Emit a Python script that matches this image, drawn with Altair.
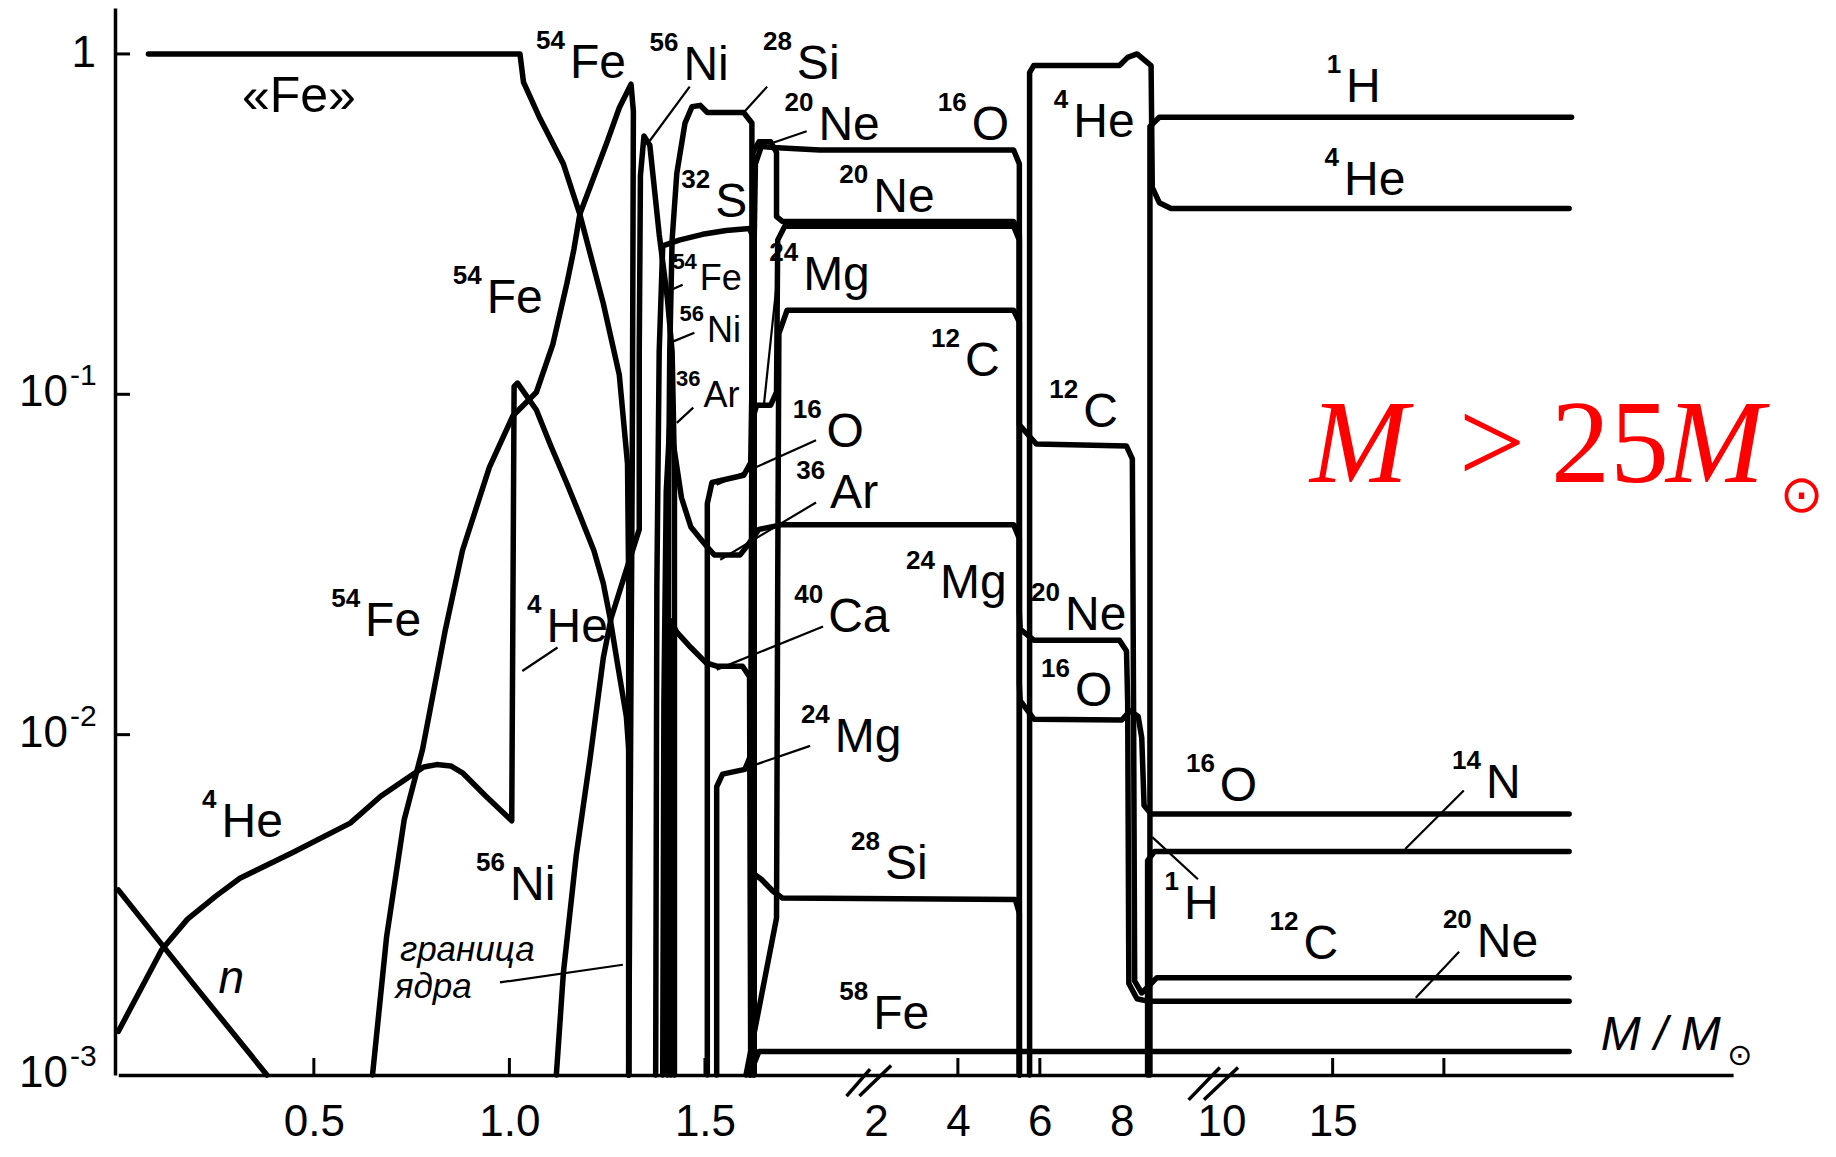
import altair as alt
import pandas as pd

# ---------------- data: mass coordinate (M/Msun) and log10 of mass fraction ----------------
N_M = [0.0, 0.19, 0.38]
N_L = [-2.456, -2.73, -3.0]

HE4_CORE_M = [0.0, 0.057, 0.111, 0.177, 0.251, 0.311, 0.446, 0.593, 0.671, 0.746, 0.781, 0.814, 0.850, 0.880,
              0.940, 1.006, 1.012, 1.021, 1.069, 1.105, 1.147, 1.180, 1.216, 1.240, 1.257, 1.278, 1.299, 1.305, 1.305]
HE4_CORE_L = [-2.872, -2.749, -2.632, -2.542, -2.473, -2.422, -2.346, -2.260, -2.181, -2.122, -2.095, -2.088, -2.092,
              -2.112, -2.181, -2.253, -0.977, -0.967, -1.046, -1.149, -1.262, -1.355, -1.459, -1.555, -1.655, -1.803,
              -1.947, -2.043, -3.0]

FE_CORE_M = [0.077, 1.027, 1.036, 1.078, 1.138, 1.180, 1.240, 1.281, 1.302, 1.305, 1.305]
FE_CORE_L = [0.0, 0.0, -0.083, -0.189, -0.323, -0.471, -0.733, -0.943, -1.204, -1.562, -3.0]

FE54_M = [0.650, 0.686, 0.731, 0.778, 0.835, 0.880, 0.949, 1.009, 1.069, 1.111, 1.147, 1.165, 1.180,
          1.249, 1.281, 1.311, 1.317, 1.314, 1.305]
FE54_L = [-3.0, -2.594, -2.250, -2.043, -1.699, -1.459, -1.214, -1.063, -0.994, -0.853, -0.674, -0.574, -0.471,
          -0.261, -0.158, -0.089, -0.169, -1.218, -3.0]

NI56_M = [1.120, 1.138, 1.171, 1.207, 1.240, 1.260, 1.296, 1.332, 1.332, 1.335, 1.344, 1.359, 1.383,
          1.404, 1.416, 1.422, 1.422]
NI56_L = [-3.0, -2.700, -2.353, -2.064, -1.775, -1.658, -1.527, -1.397, -0.874, -0.358, -0.241, -0.268, -0.530,
          -0.719, -0.874, -1.218, -3.0]

SI28_M = [1.404, 1.407, 1.410, 1.416, 1.428, 1.449, 1.467, 1.488, 1.506, 1.599, 1.620, 1.620, 1.644,
          1.674, 1.698, 5.40, 5.50, 5.50]
SI28_L = [-3.0, -1.287, -0.874, -0.547, -0.351, -0.203, -0.155, -0.151, -0.172, -0.172, -0.203, -2.405, -2.425,
          -2.460, -2.480, -2.484, -2.525, -3.0]

S32_M = [1.374, 1.377, 1.383, 1.392, 1.434, 1.494, 1.554, 1.614, 1.626, 1.626]
S32_L = [-3.0, -1.562, -0.874, -0.564, -0.547, -0.530, -0.519, -0.513, -0.547, -3.0]

AR36_M = [1.392, 1.395, 1.401, 1.410, 1.422, 1.440, 1.464, 1.503, 1.524, 1.590, 1.608, 1.638, 1.698,
          5.36, 5.50, 5.50]
AR36_L = [-3.0, -1.906, -1.287, -1.087, -1.166, -1.304, -1.390, -1.445, -1.472, -1.472, -1.445, -1.397, -1.383,
          -1.383, -1.424, -3.0]

CA40_M = [1.413, 1.413, 1.428, 1.464, 1.503, 1.530, 1.596, 1.614, 1.617]
CA40_L = [-3.0, -1.665, -1.699, -1.744, -1.789, -1.799, -1.799, -1.830, -3.0]

O16_M = [1.506, 1.506, 1.518, 1.599, 1.617, 1.629, 1.644, 1.674, 1.793, 5.36, 5.50, 5.50, 5.52,
         5.86, 8.0, 8.2, 8.4, 8.486, 8.543, 8.714, 25.63]
O16_L = [-3.0, -1.321, -1.259, -1.238, -1.201, -0.323, -0.272, -0.275, -0.282, -0.282, -0.323, -1.850, -1.900,
         -1.955, -1.957, -1.930, -1.947, -2.009, -2.208, -2.233, -2.233]

NE20_M = [1.623, 1.623, 1.638, 1.668, 1.683, 1.683, 1.698, 5.36, 5.50, 5.50, 5.52, 5.86, 7.943,
          8.114, 8.143, 8.171, 8.371, 8.629, 25.63]
NE20_L = [-3.0, -0.289, -0.258, -0.258, -0.289, -0.478, -0.492, -0.492, -0.530, -1.640, -1.690, -1.723, -1.723,
          -1.754, -1.906, -2.731, -2.776, -2.783, -2.783]

MG24_M = [1.530, 1.530, 1.545, 1.602, 1.617, 1.620, 1.632, 1.668, 1.683, 1.686, 1.704, 5.36, 5.50, 5.50]
MG24_L = [-3.0, -2.153, -2.116, -2.102, -2.061, -1.080, -1.032, -1.032, -0.994, -0.547, -0.506, -0.506, -0.547, -3.0]

C12_M = [1.605, 1.683, 1.686, 1.689, 1.710, 5.36, 5.50, 5.50, 5.914, 8.114, 8.257, 8.286, 8.314,
         8.486, 8.857, 25.63]
C12_L = [-3.0, -2.539, -1.562, -0.822, -0.753, -0.753, -0.788, -1.090, -1.146, -1.152, -1.190, -1.906, -2.724,
         -2.759, -2.714, -2.714]

FE58_M = [1.614, 1.638, 25.63]
FE58_L = [-3.0, -2.931, -2.931]

HE4_M = [5.75, 5.75, 5.85, 7.943, 8.143, 8.371, 8.714, 8.743, 8.914, 9.2, 25.63]
HE4_L = [-3.0, -0.055, -0.034, -0.034, -0.010, 0.0, -0.034, -0.392, -0.437, -0.454, -0.454]

H1_M = [8.686, 8.686, 8.914, 25.74]
H1_L = [-3.0, -0.213, -0.186, -0.186]

N14_M = [8.629, 8.629, 8.8, 25.63]
N14_L = [-3.0, -2.370, -2.343, -2.343]

CURVES = [
    ("n", N_M, N_L), ("4He core", HE4_CORE_M, HE4_CORE_L), ("Fe core", FE_CORE_M, FE_CORE_L),
    ("54Fe", FE54_M, FE54_L), ("56Ni", NI56_M, NI56_L), ("28Si", SI28_M, SI28_L), ("32S", S32_M, S32_L),
    ("36Ar", AR36_M, AR36_L), ("40Ca", CA40_M, CA40_L), ("16O", O16_M, O16_L), ("20Ne", NE20_M, NE20_L),
    ("24Mg", MG24_M, MG24_L), ("12C", C12_M, C12_L), ("58Fe", FE58_M, FE58_L), ("4He", HE4_M, HE4_L),
    ("1H", H1_M, H1_L), ("14N", N14_M, N14_L),
]

# isotope labels (left end of element symbol, baseline)
BIG_M = [1.155, 1.445, 1.735, 1.790, 4.337, 6.817, 15.605, 15.51, 1.982, 1.526, 1.751, 0.942, 4.174, 7.06,
         1.811, 1.820, 3.563, 6.614, 0.631, 1.095, 1.815, 6.857, 1.832, 9.982, 21.89, 0.264, 2.222, 1.0015,
         9.515, 13.685, 21.48, 1.982]
BIG_L = [-0.072, -0.078, -0.075, -0.253, -0.253, -0.243, -0.141, -0.413, -0.463, -0.478, -0.694, -0.760, -0.945,
         -1.097, -1.155, -1.334, -1.599, -1.693, -1.711, -1.728, -1.699, -1.917, -2.051, -2.196, -2.185, -2.301,
         -2.425, -2.486, -2.542, -2.659, -2.654, -2.866]
BIG_SUP = ["54", "56", "28", "20", "16", "4", "1", "4", "20", "32", "24", "54", "12", "12",
           "16", "36", "24", "20", "54", "4", "40", "16", "24", "16", "14", "4", "28", "56",
           "1", "12", "20", "58"]
BIG_EL = ["Fe", "Ni", "Si", "Ne", "O", "He", "H", "He", "Ne", "S", "Mg", "Fe", "C", "C",
          "O", "Ar", "Mg", "Ne", "Fe", "He", "Ca", "O", "Mg", "O", "N", "He", "Si", "Ni",
          "H", "C", "Ne", "Fe"]

SMALL_M = [1.487, 1.505, 1.496]
SMALL_L = [-0.694, -0.846, -1.036]
SMALL_SUP = ["54", "56", "36"]
SMALL_EL = ["Fe", "Ni", "Ar"]

# leader lines from labels to curves
LEAD_M1 = [1.461, 1.659, 1.760, 1.686, 1.784, 1.784, 1.802, 1.769, 1.123, 0.976, 1.443, 1.473, 1.470, 20.895, 20.684, 9.724]
LEAD_L1 = [-0.096, -0.096, -0.227, -0.647, -1.135, -1.318, -1.682, -2.033, -1.744, -2.728, -0.678, -0.819, -1.039, -2.164, -2.638, -2.425]
LEAD_M2 = [1.359, 1.599, 1.674, 1.650, 1.530, 1.539, 1.530, 1.569, 1.033, 1.290, 1.404, 1.416, 1.428, 18.263, 18.737, 8.743]
LEAD_L2 = [-0.255, -0.172, -0.261, -1.039, -1.266, -1.486, -1.809, -2.112, -1.813, -2.676, -0.698, -0.846, -1.084, -2.336, -2.773, -2.301]

# axis ticks, tick labels, axis breaks
XTICK_M = [0.5, 1.0, 1.5, 4, 6, 15, 20]
XLAB_VALUES = [0.5, 1.0, 1.5, 2, 4, 6, 8, 10, 15]
YTICK_L = [0, -1, -2]
YLAB10_L = [-1, -2, -3]
YSUP_T = ["-1", "-2", "-3"]
BREAK_M1 = [1.862, 1.895, 9.614, 9.795]
BREAK_L1 = [-3.062, -3.062, -3.073, -3.073]
BREAK_M2 = [1.960, 2.371, 9.982, 10.746]
BREAK_L2 = [-2.983, -2.972, -2.978, -2.978]

# ---------------- build tables ----------------
rows = []
for name, ms, ls in CURVES:
    for i, (m, l) in enumerate(zip(ms, ls)):
        rows.append({"curve": name, "i": i, "m": m, "L": l})
curves_df = pd.DataFrame(rows)

big_df = pd.DataFrame({"m": BIG_M, "L": BIG_L, "sup": BIG_SUP, "el": BIG_EL})
small_df = pd.DataFrame({"m": SMALL_M, "L": SMALL_L, "sup": SMALL_SUP, "el": SMALL_EL})
lead_df = pd.DataFrame({"m1": LEAD_M1, "L1": LEAD_L1, "m2": LEAD_M2, "L2": LEAD_L2})
xtick_df = pd.DataFrame({"m": XTICK_M, "L1": [-3.0] * len(XTICK_M), "L2": [-2.95] * len(XTICK_M)})
ytick_df = pd.DataFrame({"L": YTICK_L, "m1": [-0.0084] * 3, "m2": [0.030] * 3})
ylab_df = pd.DataFrame({"L": YLAB10_L, "t": ["10"] * 3, "s": YSUP_T})
break_df = pd.DataFrame({"m1": BREAK_M1, "L1": BREAK_L1, "m2": BREAK_M2, "L2": BREAK_L2})

FONT = "Liberation Sans"

xs = alt.Scale(type="linear", domain=[0, 1.9, 2, 9.6, 10, 33],
               range=[3.3, 746.4, 760.9, 1072.4, 1106.4, 1618.1], nice=False, zero=False)
ys = alt.Scale(type="linear", domain=[-3, 0.135], nice=False, zero=False)

xaxis = alt.Axis(values=XLAB_VALUES,
                 labelExpr="datum.value < 1.9 ? format(datum.value, '.1f') : format(datum.value, 'd')",
                 labelFont=FONT, labelFontSize=44, labelColor="black", labelPadding=60,
                 labelBaseline="alphabetic",
                 labelOverlap=False, labelFlush=False, labelBound=False,
                 ticks=False, grid=False, domain=True, domainColor="black", domainWidth=3.5, title=None)
yaxis = alt.Axis(labels=False, ticks=False, grid=False, domain=True, domainColor="black",
                 domainWidth=3.5, title=None)


def X(f):
    return alt.X(f"{f}:Q", scale=xs, axis=xaxis)


def Y(f):
    return alt.Y(f"{f}:Q", scale=ys, axis=yaxis)


curves = alt.Chart(curves_df).mark_line(color="black", strokeWidth=5.5, strokeJoin="round",
                                        strokeCap="round").encode(
    x=X("m"), y=Y("L"), detail="curve:N", order=alt.Order("i:Q"))

leaders = alt.Chart(lead_df).mark_rule(color="black", strokeWidth=2.2).encode(
    x=X("m1"), y=Y("L1"), x2="m2:Q", y2="L2:Q")

xticks = alt.Chart(xtick_df).mark_rule(color="black", strokeWidth=3).encode(
    x=X("m"), y=Y("L1"), y2="L2:Q")
yticks = alt.Chart(ytick_df).mark_rule(color="black", strokeWidth=3).encode(
    x=X("m1"), x2="m2:Q", y=Y("L"))
breaks = alt.Chart(break_df).mark_rule(color="black", strokeWidth=3.5).encode(
    x=X("m1"), y=Y("L1"), x2="m2:Q", y2="L2:Q")

el_big = alt.Chart(big_df).mark_text(align="left", baseline="alphabetic", font=FONT, fontSize=48,
                                     color="black").encode(x=X("m"), y=Y("L"), text="el:N")
sup_big = alt.Chart(big_df).mark_text(align="right", baseline="alphabetic", font=FONT, fontSize=26,
                                      fontWeight="bold", color="black", dx=-5, dy=-29).encode(
    x=X("m"), y=Y("L"), text="sup:N")
el_small = alt.Chart(small_df).mark_text(align="left", baseline="alphabetic", font=FONT, fontSize=36,
                                         color="black").encode(x=X("m"), y=Y("L"), text="el:N")
sup_small = alt.Chart(small_df).mark_text(align="right", baseline="alphabetic", font=FONT, fontSize=22,
                                          fontWeight="bold", color="black", dx=-3, dy=-21).encode(
    x=X("m"), y=Y("L"), text="sup:N")

# other annotations
misc_df = pd.DataFrame({"m": [0.316], "L": [-0.172], "t": ["«Fe»"]})
fe_core_lab = alt.Chart(misc_df).mark_text(align="left", baseline="alphabetic", font=FONT, fontSize=50,
                                           color="black").encode(x=X("m"), y=Y("L"), text="t:N")
ital_df = pd.DataFrame({"m": [0.256], "L": [-2.758], "t": ["n"]})
n_lab = alt.Chart(ital_df).mark_text(align="left", baseline="alphabetic", font=FONT, fontSize=46,
                                     fontStyle="italic", color="black").encode(x=X("m"), y=Y("L"), text="t:N")
core_df = pd.DataFrame({"m": [0.720, 0.707], "L": [-2.665, -2.775], "t": ["граница", "ядра"]})
core_lab = alt.Chart(core_df).mark_text(align="left", baseline="alphabetic", font=FONT, fontSize=35,
                                        fontStyle="italic", color="black").encode(x=X("m"), y=Y("L"), text="t:N")
axt_df = pd.DataFrame({"m": [27.05], "L": [-2.927], "t": ["M / M"]})
ax_title = alt.Chart(axt_df).mark_text(align="left", baseline="alphabetic", font=FONT, fontSize=48,
                                       fontStyle="italic", color="black").encode(x=X("m"), y=Y("L"), text="t:N")
axsun_df = pd.DataFrame({"m": [32.74], "L": [-2.972], "t": ["⊙"]})
ax_sun = alt.Chart(axsun_df).mark_text(align="left", baseline="alphabetic", font="DejaVu Sans", fontSize=30,
                                       color="black").encode(x=X("m"), y=Y("L"), text="t:N")

# y tick labels
one_df = pd.DataFrame({"L": [0], "t": ["1"]})
ylab_one = alt.Chart(one_df).mark_text(align="right", baseline="alphabetic", font=FONT, fontSize=44,
                                       color="black", dy=13).encode(x=alt.value(-19), y=Y("L"), text="t:N")
ylab_10 = alt.Chart(ylab_df).mark_text(align="right", baseline="alphabetic", font=FONT, fontSize=44,
                                       color="black", dy=12).encode(x=alt.value(-47), y=Y("L"), text="t:N")
ylab_sup = alt.Chart(ylab_df).mark_text(align="left", baseline="alphabetic", font=FONT, fontSize=30,
                                        color="black", dy=-9).encode(x=alt.value(-45), y=Y("L"), text="s:N")

# red title  M > 25 M_sun
red_it_df = pd.DataFrame({"m": [13.98, 29.98], "L": [-1.258, -1.258], "t": ["M", "M"]})
red_up_df = pd.DataFrame({"m": [20.67, 24.82], "L": [-1.258, -1.258], "t": [">", "25"]})
red_sun_df = pd.DataFrame({"m": [35.1], "L": [-1.346], "t": ["⊙"]})
red_it = alt.Chart(red_it_df).mark_text(align="left", baseline="alphabetic", font="Liberation Serif",
                                        fontSize=118, fontStyle="italic", color="#ff0000").encode(
    x=X("m"), y=Y("L"), text="t:N")
red_up = alt.Chart(red_up_df).mark_text(align="left", baseline="alphabetic", font="Liberation Serif",
                                        fontSize=118, color="#ff0000").encode(
    x=X("m"), y=Y("L"), text="t:N")
red_sun = alt.Chart(red_sun_df).mark_text(align="left", baseline="alphabetic", font="DejaVu Sans",
                                          fontSize=52, color="#ff0000").encode(
    x=X("m"), y=Y("L"), text="t:N")

chart = alt.layer(
    curves, leaders, xticks, yticks, breaks, el_big, sup_big, el_small, sup_small,
    fe_core_lab, n_lab, core_lab, ax_title, ax_sun, ylab_one, ylab_10, ylab_sup,
    red_it, red_up, red_sun,
).properties(
    width=1618, height=1067,
    autosize=alt.AutoSizeParams(type="none"),
    padding={"left": 107, "top": 0, "right": 95, "bottom": 72},
    background="white",
).configure_view(stroke=None)

chart.save("out.html", embed_options={"renderer": "svg", "actions": False})
